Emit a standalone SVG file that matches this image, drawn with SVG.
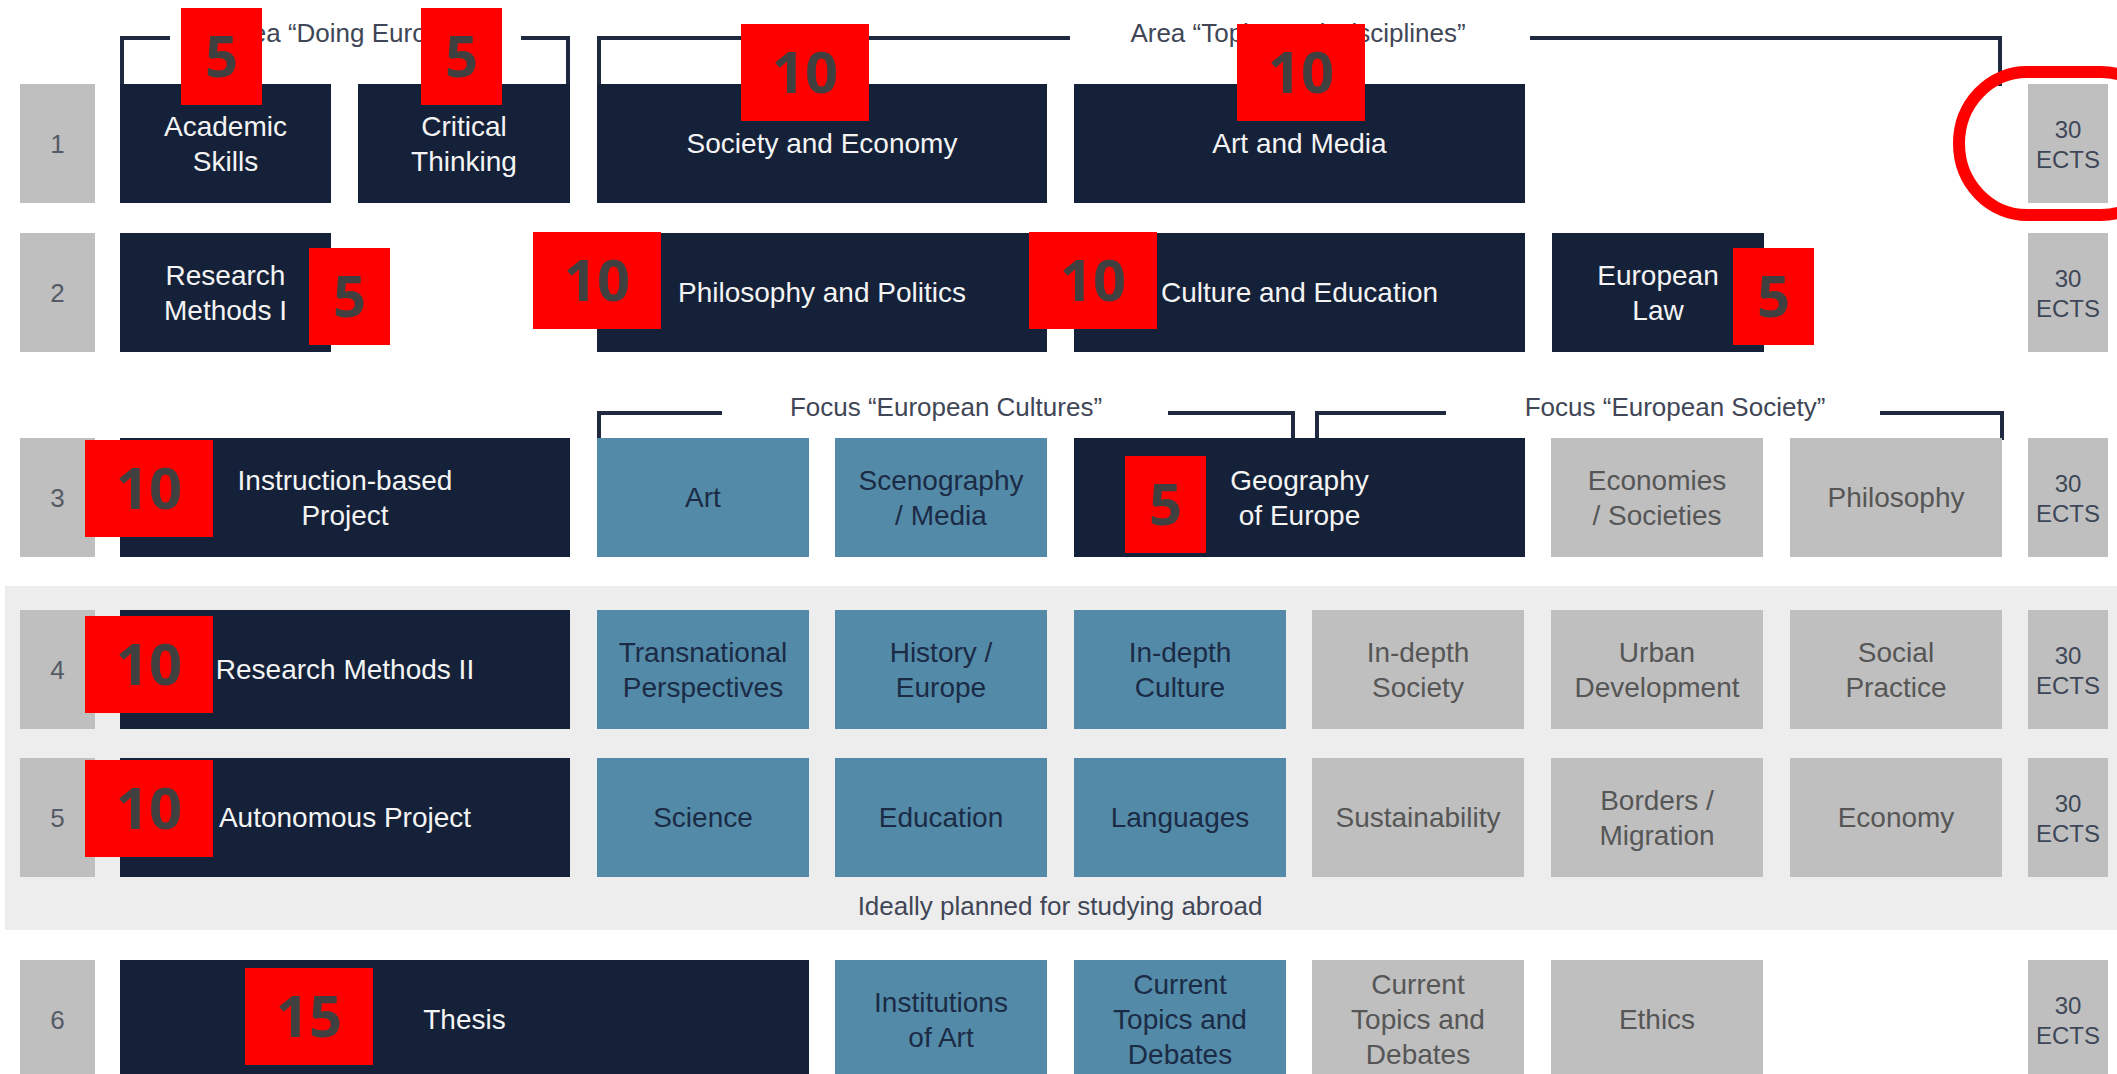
<svg xmlns="http://www.w3.org/2000/svg" width="2117" height="1074" viewBox="0 0 2117 1074">
<style>
.navy{fill:#152139}
.blue{fill:#538aa8}
.grey{fill:#bfbfbf}
.t{font-family:"Liberation Sans",Arial,sans-serif;font-size:28px;text-anchor:middle}
.w{fill:#f4f4f4}
.b{fill:#1b2b45}
.g{fill:#565656}
.lbl{font-family:"Liberation Sans",Arial,sans-serif;font-size:26px;text-anchor:middle;fill:#555b66}
.ects{font-family:"Liberation Sans",Arial,sans-serif;font-size:24px;text-anchor:middle;fill:#3e4758}
.hd{font-family:"Liberation Sans",Arial,sans-serif;font-size:26px;text-anchor:middle;fill:#404656}
.br{fill:none;stroke:#1f2a40;stroke-width:4}
.red{fill:#ff0000}
.num{font-family:"Open Sans","Noto Sans",sans-serif;font-weight:700;font-size:58px;text-anchor:middle;fill:#404040}
</style>
<rect x="0" y="0" width="2117" height="1074" fill="#ffffff"/>
<rect id="abroad-band" x="5" y="586" width="2112" height="344" fill="#ededed"/>
<text class="hd" x="1060" y="915">Ideally planned for studying abroad</text>

<g id="connectors">
<polyline class="br" points="170,38 122,38 122,86"/>
<polyline class="br" points="521,38 568,38 568,86"/>
<text class="hd" x="345" y="42">Area “Doing Europe”</text>
<polyline class="br" points="1070,38 599,38 599,86"/>
<polyline class="br" points="1530,38 2000,38 2000,86"/>
<text class="hd" x="1298" y="42">Area “Topics and Disciplines”</text>
<polyline class="br" points="722,413 599,413 599,440"/>
<polyline class="br" points="1168,413 1293,413 1293,440"/>
<text class="hd" x="946" y="416">Focus “European Cultures”</text>
<polyline class="br" points="1446,413 1317,413 1317,440"/>
<polyline class="br" points="1880,413 2002,413 2002,440"/>
<text class="hd" x="1675" y="416">Focus “European Society”</text>
</g>

<!-- Row labels -->
<g id="sem1"><rect class="grey" x="20" y="84" width="75" height="119"/><text class="lbl" x="57.5" y="153">1</text></g>
<g id="sem2"><rect class="grey" x="20" y="233" width="75" height="119"/><text class="lbl" x="57.5" y="302">2</text></g>
<g id="sem3"><rect class="grey" x="20" y="438" width="75" height="119"/><text class="lbl" x="57.5" y="507">3</text></g>
<g id="sem4"><rect class="grey" x="20" y="610" width="75" height="119"/><text class="lbl" x="57.5" y="679">4</text></g>
<g id="sem5"><rect class="grey" x="20" y="758" width="75" height="119"/><text class="lbl" x="57.5" y="827">5</text></g>
<g id="sem6"><rect class="grey" x="20" y="960" width="75" height="119"/><text class="lbl" x="57.5" y="1029">6</text></g>

<!-- ECTS -->
<g id="ects1"><rect class="grey" x="2028" y="84" width="80" height="119"/><text class="ects" x="2068" y="138">30</text><text class="ects" x="2068" y="168">ECTS</text></g>
<g id="ects2"><rect class="grey" x="2028" y="233" width="80" height="119"/><text class="ects" x="2068" y="287">30</text><text class="ects" x="2068" y="317">ECTS</text></g>
<g id="ects3"><rect class="grey" x="2028" y="438" width="80" height="119"/><text class="ects" x="2068" y="492">30</text><text class="ects" x="2068" y="522">ECTS</text></g>
<g id="ects4"><rect class="grey" x="2028" y="610" width="80" height="119"/><text class="ects" x="2068" y="664">30</text><text class="ects" x="2068" y="694">ECTS</text></g>
<g id="ects5"><rect class="grey" x="2028" y="758" width="80" height="119"/><text class="ects" x="2068" y="812">30</text><text class="ects" x="2068" y="842">ECTS</text></g>
<g id="ects6"><rect class="grey" x="2028" y="960" width="80" height="119"/><text class="ects" x="2068" y="1014">30</text><text class="ects" x="2068" y="1044">ECTS</text></g>

<!-- Row 1 -->
<g id="academic-skills"><rect class="navy" x="120" y="84" width="211" height="119"/><text class="t w" x="225.5" y="136">Academic</text><text class="t w" x="225.5" y="171">Skills</text></g>
<g id="critical-thinking"><rect class="navy" x="358" y="84" width="212" height="119"/><text class="t w" x="464" y="136">Critical</text><text class="t w" x="464" y="171">Thinking</text></g>
<g id="society-economy"><rect class="navy" x="597" y="84" width="450" height="119"/><text class="t w" x="822" y="153">Society and Economy</text></g>
<g id="art-media"><rect class="navy" x="1074" y="84" width="451" height="119"/><text class="t w" x="1299.5" y="153">Art and Media</text></g>

<!-- Row 2 -->
<g id="research-methods-1"><rect class="navy" x="120" y="233" width="211" height="119"/><text class="t w" x="225.5" y="285">Research</text><text class="t w" x="225.5" y="320">Methods I</text></g>
<g id="philosophy-politics"><rect class="navy" x="597" y="233" width="450" height="119"/><text class="t w" x="822" y="302">Philosophy and Politics</text></g>
<g id="culture-education"><rect class="navy" x="1074" y="233" width="451" height="119"/><text class="t w" x="1299.5" y="302">Culture and Education</text></g>
<g id="european-law"><rect class="navy" x="1552" y="233" width="212" height="119"/><text class="t w" x="1658" y="285">European</text><text class="t w" x="1658" y="320">Law</text></g>

<!-- Row 3 -->
<g id="instruction-project"><rect class="navy" x="120" y="438" width="450" height="119"/><text class="t w" x="345" y="490">Instruction-based</text><text class="t w" x="345" y="525">Project</text></g>
<g id="art"><rect class="blue" x="597" y="438" width="212" height="119"/><text class="t b" x="703" y="507">Art</text></g>
<g id="scenography-media"><rect class="blue" x="835" y="438" width="212" height="119"/><text class="t b" x="941" y="490">Scenography</text><text class="t b" x="941" y="525">/ Media</text></g>
<g id="geography-europe"><rect class="navy" x="1074" y="438" width="451" height="119"/><text class="t w" x="1299.5" y="490">Geography</text><text class="t w" x="1299.5" y="525">of Europe</text></g>
<g id="economies-societies"><rect class="grey" x="1551" y="438" width="212" height="119"/><text class="t g" x="1657" y="490">Economies</text><text class="t g" x="1657" y="525">/ Societies</text></g>
<g id="philosophy"><rect class="grey" x="1790" y="438" width="212" height="119"/><text class="t g" x="1896" y="507">Philosophy</text></g>

<!-- Row 4 -->
<g id="research-methods-2"><rect class="navy" x="120" y="610" width="450" height="119"/><text class="t w" x="345" y="679">Research Methods II</text></g>
<g id="transnational"><rect class="blue" x="597" y="610" width="212" height="119"/><text class="t b" x="703" y="662">Transnational</text><text class="t b" x="703" y="697">Perspectives</text></g>
<g id="history-europe"><rect class="blue" x="835" y="610" width="212" height="119"/><text class="t b" x="941" y="662">History /</text><text class="t b" x="941" y="697">Europe</text></g>
<g id="indepth-culture"><rect class="blue" x="1074" y="610" width="212" height="119"/><text class="t b" x="1180" y="662">In-depth</text><text class="t b" x="1180" y="697">Culture</text></g>
<g id="indepth-society"><rect class="grey" x="1312" y="610" width="212" height="119"/><text class="t g" x="1418" y="662">In-depth</text><text class="t g" x="1418" y="697">Society</text></g>
<g id="urban-development"><rect class="grey" x="1551" y="610" width="212" height="119"/><text class="t g" x="1657" y="662">Urban</text><text class="t g" x="1657" y="697">Development</text></g>
<g id="social-practice"><rect class="grey" x="1790" y="610" width="212" height="119"/><text class="t g" x="1896" y="662">Social</text><text class="t g" x="1896" y="697">Practice</text></g>

<!-- Row 5 -->
<g id="autonomous-project"><rect class="navy" x="120" y="758" width="450" height="119"/><text class="t w" x="345" y="827">Autonomous Project</text></g>
<g id="science"><rect class="blue" x="597" y="758" width="212" height="119"/><text class="t b" x="703" y="827">Science</text></g>
<g id="education"><rect class="blue" x="835" y="758" width="212" height="119"/><text class="t b" x="941" y="827">Education</text></g>
<g id="languages"><rect class="blue" x="1074" y="758" width="212" height="119"/><text class="t b" x="1180" y="827">Languages</text></g>
<g id="sustainability"><rect class="grey" x="1312" y="758" width="212" height="119"/><text class="t g" x="1418" y="827">Sustainability</text></g>
<g id="borders-migration"><rect class="grey" x="1551" y="758" width="212" height="119"/><text class="t g" x="1657" y="810">Borders /</text><text class="t g" x="1657" y="845">Migration</text></g>
<g id="economy"><rect class="grey" x="1790" y="758" width="212" height="119"/><text class="t g" x="1896" y="827">Economy</text></g>

<!-- Row 6 -->
<g id="thesis"><rect class="navy" x="120" y="960" width="689" height="119"/><text class="t w" x="464.5" y="1029">Thesis</text></g>
<g id="institutions-art"><rect class="blue" x="835" y="960" width="212" height="119"/><text class="t b" x="941" y="1012">Institutions</text><text class="t b" x="941" y="1047">of Art</text></g>
<g id="current-topics-culture"><rect class="blue" x="1074" y="960" width="212" height="119"/><text class="t b" x="1180" y="994">Current</text><text class="t b" x="1180" y="1029">Topics and</text><text class="t b" x="1180" y="1064">Debates</text></g>
<g id="current-topics-society"><rect class="grey" x="1312" y="960" width="212" height="119"/><text class="t g" x="1418" y="994">Current</text><text class="t g" x="1418" y="1029">Topics and</text><text class="t g" x="1418" y="1064">Debates</text></g>
<g id="ethics"><rect class="grey" x="1551" y="960" width="212" height="119"/><text class="t g" x="1657" y="1029">Ethics</text></g>

<!-- Red credit markers -->
<g id="credits">
<g><rect class="red" x="181" y="8" width="81" height="97"/><text class="num" x="221.5" y="77">5</text></g>
<g><rect class="red" x="421" y="8" width="81" height="97"/><text class="num" x="461.5" y="77">5</text></g>
<g><rect class="red" x="741" y="24" width="128" height="97"/><text class="num" x="805" y="93">10</text></g>
<g><rect class="red" x="1237" y="24" width="128" height="97"/><text class="num" x="1301" y="93">10</text></g>
<g><rect class="red" x="309" y="248" width="81" height="97"/><text class="num" x="349.5" y="317">5</text></g>
<g><rect class="red" x="533" y="232" width="128" height="97"/><text class="num" x="597" y="301">10</text></g>
<g><rect class="red" x="1029" y="232" width="128" height="97"/><text class="num" x="1093" y="301">10</text></g>
<g><rect class="red" x="1733" y="248" width="81" height="97"/><text class="num" x="1773.5" y="317">5</text></g>
<g><rect class="red" x="85" y="440" width="128" height="97"/><text class="num" x="149" y="509">10</text></g>
<g><rect class="red" x="1125" y="456" width="81" height="97"/><text class="num" x="1165.5" y="525">5</text></g>
<g><rect class="red" x="85" y="616" width="128" height="97"/><text class="num" x="149" y="685">10</text></g>
<g><rect class="red" x="85" y="760" width="128" height="97"/><text class="num" x="149" y="829">10</text></g>
<g><rect class="red" x="245" y="968" width="128" height="97"/><text class="num" x="309" y="1037">15</text></g>
</g>

<g id="highlight">
<rect x="1959" y="72" width="210" height="143" rx="68" ry="72" fill="none" stroke="#ff0000" stroke-width="12"/>
</g>
</svg>
